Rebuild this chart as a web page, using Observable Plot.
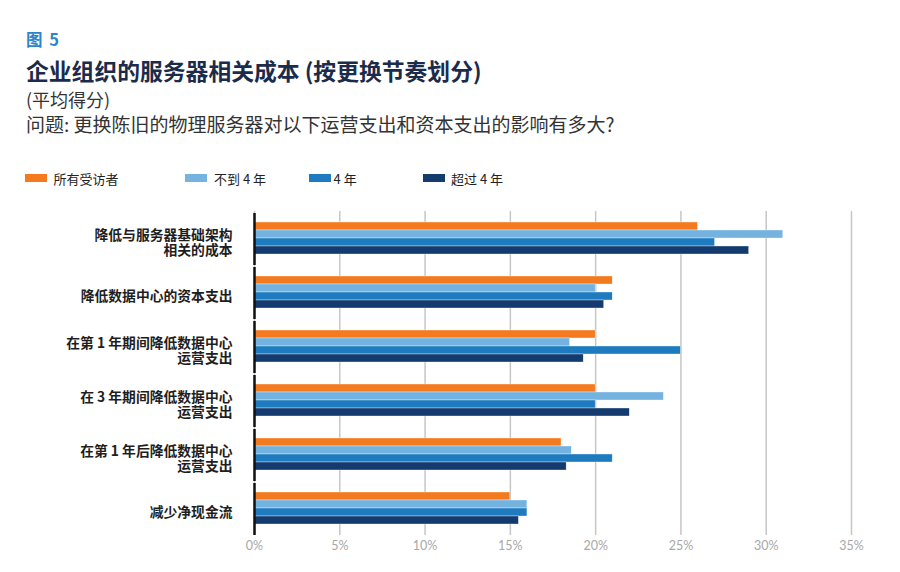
<!DOCTYPE html>
<html>
<head>
<meta charset="utf-8">
<script src="https://cdn.jsdelivr.net/npm/d3@7"></script>
<script src="https://cdn.jsdelivr.net/npm/@observablehq/plot@0.6"></script>
<style>
  html, body { margin: 0; padding: 0; background: #fff; }
  #page { position: relative; width: 900px; height: 572px; overflow: hidden; font-family: "Noto Sans CJK SC", "Noto Sans", sans-serif; }
  .t { position: absolute; left: 26px; white-space: nowrap; }
  #fig { top: 28px; font-size: 16.5px; line-height: 22px; font-weight: bold; color: #2a86c8; word-spacing: 3px; }
  #title { top: 56px; font-size: 22.8px; line-height: 30px; font-weight: bold; color: #1b2b4b; }
  #sub { top: 87px; font-size: 18px; line-height: 24px; color: #333; }
  #question { top: 112px; font-size: 19px; line-height: 24px; color: #333; }
  .lg { position: absolute; top: 169px; height: 18px; display: flex; align-items: center; font-size: 13px; color: #222; white-space: nowrap; }
  .sw { width: 22px; height: 8px; }
  #chart { position: absolute; left: 0; top: 195px; }
</style>
</head>
<body>
<div id="page">
  <div class="t" id="fig">图 5</div>
  <div class="t" id="title">企业组织的服务器相关成本 (按更换节奏划分)</div>
  <div class="t" id="sub">(平均得分)</div>
  <div class="t" id="question">问题: 更换陈旧的物理服务器对以下运营支出和资本支出的影响有多大?</div>
  <div id="legend"></div>
  <div id="chart"></div>
</div>
<script>
const categories = [
  "降低与服务器基础架构\n相关的成本",
  "降低数据中心的资本支出",
  "在第 1 年期间降低数据中心\n运营支出",
  "在 3 年期间降低数据中心\n运营支出",
  "在第 1 年后降低数据中心\n运营支出",
  "减少净现金流"
];
const series = ["所有受访者", "不到 4 年", "4 年", "超过 4 年"];
const allRespondents = [26, 21, 20, 20, 18, 15];
const lessThan4 = [31, 20, 18.5, 24, 18.6, 16];
const exactly4 = [27, 21, 25, 20, 21, 16];
const moreThan4 = [29, 20.5, 19.3, 22, 18.3, 15.5];
const xTicks = [0, 5, 10, 15, 20, 25, 30, 35];
const colors = ["#f47a1f", "#74b2e0", "#1f7bbf", "#143b70"];

const valuesBySeries = [allRespondents, lessThan4, exactly4, moreThan4];
const data = categories.flatMap((c, i) =>
  series.map((s, j) => ({category: c, series: s, value: valuesBySeries[j][i]}))
);

// legend (layout positions)
const legendLefts = [25, 185, 309, 423];
const legendGaps = [6.5, 7, 2.5, 6];
const legend = document.getElementById("legend");
series.forEach((s, j) => {
  const item = document.createElement("div");
  item.className = "lg";
  item.style.left = legendLefts[j] + "px";
  const sw = document.createElement("div");
  sw.className = "sw";
  sw.style.background = colors[j];
  sw.style.marginRight = legendGaps[j] + "px";
  item.appendChild(sw);
  const tx = document.createElement("span");
  tx.textContent = s;
  item.appendChild(tx);
  legend.appendChild(item);
});

const chart = Plot.plot({
  width: 900,
  height: 377,
  marginLeft: 254,
  marginRight: 49,
  marginTop: 15,
  marginBottom: 36,
  style: {fontFamily: "'Noto Sans CJK SC', 'Noto Sans', sans-serif", background: "transparent"},
  x: {domain: [0, 35]},
  y: {domain: series, padding: 0, axis: null},
  fy: {domain: categories, paddingInner: 0.367, paddingOuter: 0.175},
  color: {domain: series, range: colors},
  marks: [
    Plot.ruleX(xTicks, {stroke: "#c6c6c6", strokeWidth: 1.5, insetTop: -10, insetBottom: -10}),
    Plot.barX(data, {x: "value", y: "series", fy: "category", fill: "series", stroke: "#ffffff", strokeWidth: 0.5, strokeOpacity: 0.7}),
    Plot.ruleX([0], {stroke: "#111", strokeWidth: 2.5, insetTop: -8, insetBottom: -10}),
    Plot.axisFy({anchor: "left", tickSize: 0, tickPadding: 22, fontSize: 13.8, fontWeight: "bold", lineHeight: 1.12, dy: 4, fill: "#1e1e1e", label: null}),
    Plot.axisX({anchor: "bottom", ticks: xTicks, tickFormat: d => d + "%", tickSize: 0, tickPadding: 16, fill: "#a8a8a8", fontSize: 12.5, fontFamily: "Lato, 'Noto Sans', sans-serif", label: null})
  ]
});
document.getElementById("chart").appendChild(chart);
</script>
</body>
</html>
